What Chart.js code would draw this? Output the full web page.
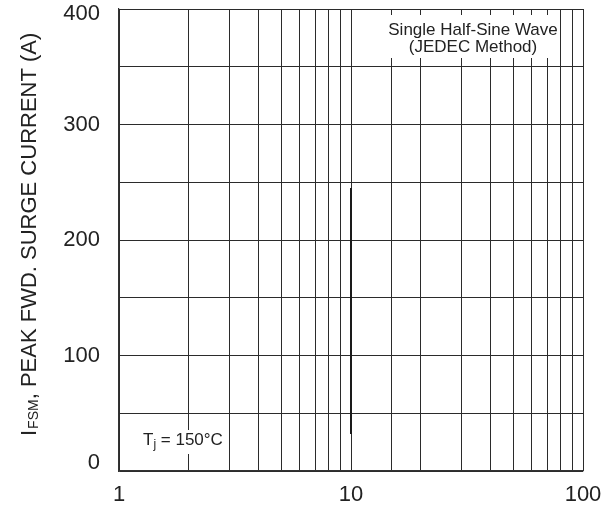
<!DOCTYPE html>
<html>
<head>
<meta charset="utf-8">
<script src="https://cdn.jsdelivr.net/npm/chart.js"></script>
<style>
    html, body { margin: 0; padding: 0; background: #fff; }
    #wrap { width: 604px; height: 512px; }
</style>
</head>
<body>
<div id="wrap"><canvas id="surgeChart" width="604" height="512"></canvas></div>
<script>
// Werte
const cycleX = [10, 10];            // Anzahl Zyklen bei 60 Hz
const surgeY = [245, 32];           // I_FSM in A
const xTickLabels = [1, 10, 100];
const yTickLabels = [0, 100, 200, 300, 400];
const noteLines = ['Single Half-Sine Wave', '(JEDEC Method)'];

const fontFamily = '"Liberation Sans", Arial, sans-serif';
const gridColor = '#2b2b2b';

// Achsentitel mit Index, Y-Beschriftungen und Textkästen
const textPlugin = {
    id: 'textPlugin',
    afterDatasetsDraw(chart) {
        const ctx = chart.ctx;
        const area = chart.chartArea;
        const yScale = chart.scales.y;
        ctx.save();
        ctx.fillStyle = '#222';

        // Y-Beschriftungen (Rand-Labels bleiben innerhalb der Fläche)
        ctx.font = '22px ' + fontFamily;
        ctx.textAlign = 'right';
        ctx.textBaseline = 'middle';
        yTickLabels.forEach(v => {
            let py = yScale.getPixelForValue(v);
            py = Math.min(Math.max(py, area.top + 5), area.bottom - 8);
            ctx.fillText(String(v), area.left - 19, py);
        });

        // Y-Achsentitel, gedreht
        ctx.save();
        ctx.translate(36, 436);
        ctx.rotate(-Math.PI / 2);
        ctx.textAlign = 'left';
        ctx.textBaseline = 'alphabetic';
        ctx.font = '22px ' + fontFamily;
        ctx.fillText('I', 0, 0);
        let w = ctx.measureText('I').width + 1;
        ctx.font = '14px ' + fontFamily;
        ctx.fillText('FSM', w, 2);
        w += ctx.measureText('FSM').width;
        ctx.font = '22px ' + fontFamily;
        ctx.fillText(', PEAK FWD. SURGE CURRENT (A)', w, 0);
        ctx.restore();

        // Kasten oben rechts
        ctx.font = '17px ' + fontFamily;
        ctx.textAlign = 'center';
        const cx = area.right - 110;
        ctx.fillStyle = '#fff';
        ctx.fillRect(cx - 86, area.top + 6, 172, 43);
        ctx.fillStyle = '#222';
        noteLines.forEach((line, i) => {
            ctx.fillText(line, cx, area.top + 21 + i * 17);
        });

        // Kasten unten links: T_j = 150°C
        const tx = area.left + 24;
        const ty = area.bottom - 31;
        ctx.fillStyle = '#fff';
        ctx.fillRect(tx - 4, ty - 10, 86, 24);
        ctx.fillStyle = '#222';
        ctx.textAlign = 'left';
        ctx.font = '17px ' + fontFamily;
        ctx.fillText('T', tx, ty);
        let tw = ctx.measureText('T').width;
        ctx.font = '12px ' + fontFamily;
        ctx.fillText('j', tx + tw, ty + 5);
        tw += ctx.measureText('j').width;
        ctx.font = '17px ' + fontFamily;
        ctx.fillText(' = 150°C', tx + tw, ty);
        ctx.restore();
    }
};

const ctx = document.getElementById('surgeChart').getContext('2d');
new Chart(ctx, {
    type: 'line',
    data: {
        datasets: [{
            data: cycleX.map((x, i) => ({ x: x, y: surgeY[i] })),
            borderColor: '#1a1a1a',
            borderWidth: 2,
            pointRadius: 0,
            fill: false,
            tension: 0
        }]
    },
    options: {
        responsive: false,
        animation: false,
        layout: { padding: { top: 9, right: 21, left: 0, bottom: 0 } },
        plugins: {
            legend: { display: false },
            tooltip: { enabled: false }
        },
        scales: {
            x: {
                type: 'logarithmic',
                min: 1,
                max: 100,
                afterFit: scale => {
                    scale.height = 41;
                    scale.paddingLeft = 0;
                    scale.paddingRight = 0;
                },
                border: { display: true, color: '#333', width: 1.2 },
                grid: { color: gridColor, lineWidth: 1, drawTicks: false },
                ticks: {
                    autoSkip: false,
                    maxRotation: 0,
                    padding: 11,
                    color: '#222',
                    font: { family: fontFamily, size: 22 },
                    callback: v => xTickLabels.includes(v) ? String(v) : ''
                }
            },
            y: {
                min: 0,
                max: 400,
                afterFit: scale => { scale.width = 119; },
                border: { display: true, color: '#333', width: 1.2 },
                grid: { color: gridColor, lineWidth: 1, drawTicks: false },
                ticks: { stepSize: 50, display: false }
            }
        }
    },
    plugins: [textPlugin]
});
</script>
</body>
</html>
